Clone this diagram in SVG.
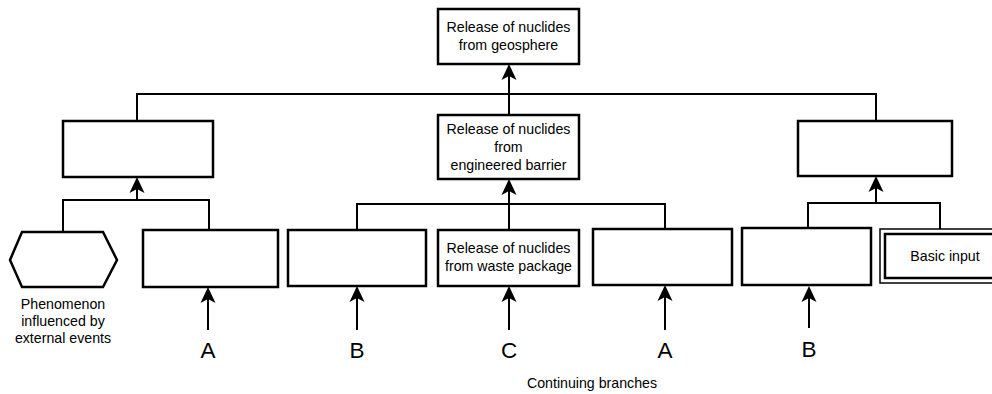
<svg xmlns="http://www.w3.org/2000/svg" width="992" height="394" viewBox="0 0 992 394">
  <style>
    .box { fill: #fff; stroke: #000; stroke-width: 2.5; }
    .thin { fill: #fff; stroke: #000; stroke-width: 1.5; }
    .wire { fill: none; stroke: #000; stroke-width: 2; }
    .head { fill: #000; }
    .t { font-family: "Liberation Sans", Arial, sans-serif; font-size: 14.2px; fill: #000; text-anchor: middle; }
    .big { font-family: "Liberation Sans", Arial, sans-serif; font-size: 22.5px; fill: #000; text-anchor: middle; }
  </style>
  <defs>
    <!-- upward arrowhead, tip at origin -->
    <path id="up" class="head" d="M0,0 L7.5,16 L0,12 L-7.5,16 Z"/>
  </defs>
  <rect width="992" height="394" fill="#fff"/>

  <!-- connectors -->
  <g id="connectors">
    <!-- top level join -->
    <polyline class="wire" points="137,120 137,94 876,94 876,121"/>
    <line class="wire" x1="509" y1="115" x2="509" y2="70"/>
    <use href="#up" x="509" y="64"/>
    <!-- left subtree -->
    <polyline class="wire" points="63,232 63,200 209,200 209,230"/>
    <line class="wire" x1="137" y1="200" x2="137" y2="183"/>
    <use href="#up" x="137" y="177"/>
    <!-- centre subtree -->
    <polyline class="wire" points="357,230 357,204 665,204 665,229"/>
    <line class="wire" x1="509" y1="230" x2="509" y2="185"/>
    <use href="#up" x="509" y="179"/>
    <!-- right subtree -->
    <polyline class="wire" points="808,228 808,203 940,203 940,229"/>
    <line class="wire" x1="876" y1="203" x2="876" y2="182"/>
    <use href="#up" x="876" y="176"/>
    <!-- continuing branches -->
    <line class="wire" x1="208" y1="330" x2="208" y2="293"/>
    <use href="#up" x="208" y="287"/>
    <line class="wire" x1="357" y1="330" x2="357" y2="292"/>
    <use href="#up" x="357" y="286"/>
    <line class="wire" x1="509" y1="330" x2="509" y2="292"/>
    <use href="#up" x="509" y="286"/>
    <line class="wire" x1="665" y1="330" x2="665" y2="291"/>
    <use href="#up" x="665" y="285"/>
    <line class="wire" x1="809" y1="328" x2="809" y2="292"/>
    <use href="#up" x="809" y="286"/>
  </g>

  <g id="geosphere">
    <rect class="box" x="438" y="9" width="141" height="55"/>
    <text class="t" x="508.5" y="32">Release of nuclides</text>
    <text class="t" x="508.5" y="50">from geosphere</text>
  </g>

  <g id="left-event">
    <rect class="box" x="63" y="121" width="150" height="56"/>
  </g>

  <g id="engineered-barrier">
    <rect class="box" x="438" y="115" width="141" height="64"/>
    <text class="t" x="508.5" y="134">Release of nuclides</text>
    <text class="t" x="508.5" y="152">from</text>
    <text class="t" x="508.5" y="170">engineered barrier</text>
  </g>

  <g id="right-event">
    <rect class="box" x="798" y="121" width="154" height="55"/>
  </g>

  <g id="phenomenon">
    <polygon class="box" points="22,232 103,232 117,260 103,287 22,287 10,260"/>
    <text class="t" x="63" y="309">Phenomenon</text>
    <text class="t" x="63" y="326">influenced by</text>
    <text class="t" x="63" y="343">external events</text>
  </g>

  <g id="branch-a1">
    <rect class="box" x="143" y="230" width="135" height="57"/>
  </g>

  <g id="branch-b1">
    <rect class="box" x="288" y="230" width="138" height="56"/>
  </g>

  <g id="waste-package">
    <rect class="box" x="438" y="230" width="141" height="56"/>
    <text class="t" x="508.5" y="253">Release of nuclides</text>
    <text class="t" x="508.5" y="271">from waste package</text>
  </g>

  <g id="branch-a2">
    <rect class="box" x="593" y="229" width="139" height="56"/>
  </g>

  <g id="branch-b2">
    <rect class="box" x="742" y="228" width="129" height="57"/>
  </g>

  <g id="basic-input">
    <rect class="thin" x="880" y="229" width="120" height="54"/>
    <rect class="box" x="885" y="234" width="120" height="44"/>
    <text class="t" x="945" y="261">Basic input</text>
  </g>

  <g id="labels">
    <text class="big" x="208" y="358">A</text>
    <text class="big" x="357" y="358">B</text>
    <text class="big" x="509" y="358">C</text>
    <text class="big" x="665" y="358">A</text>
    <text class="big" x="809" y="357">B</text>
    <text class="t" x="592" y="388">Continuing branches</text>
  </g>
</svg>
